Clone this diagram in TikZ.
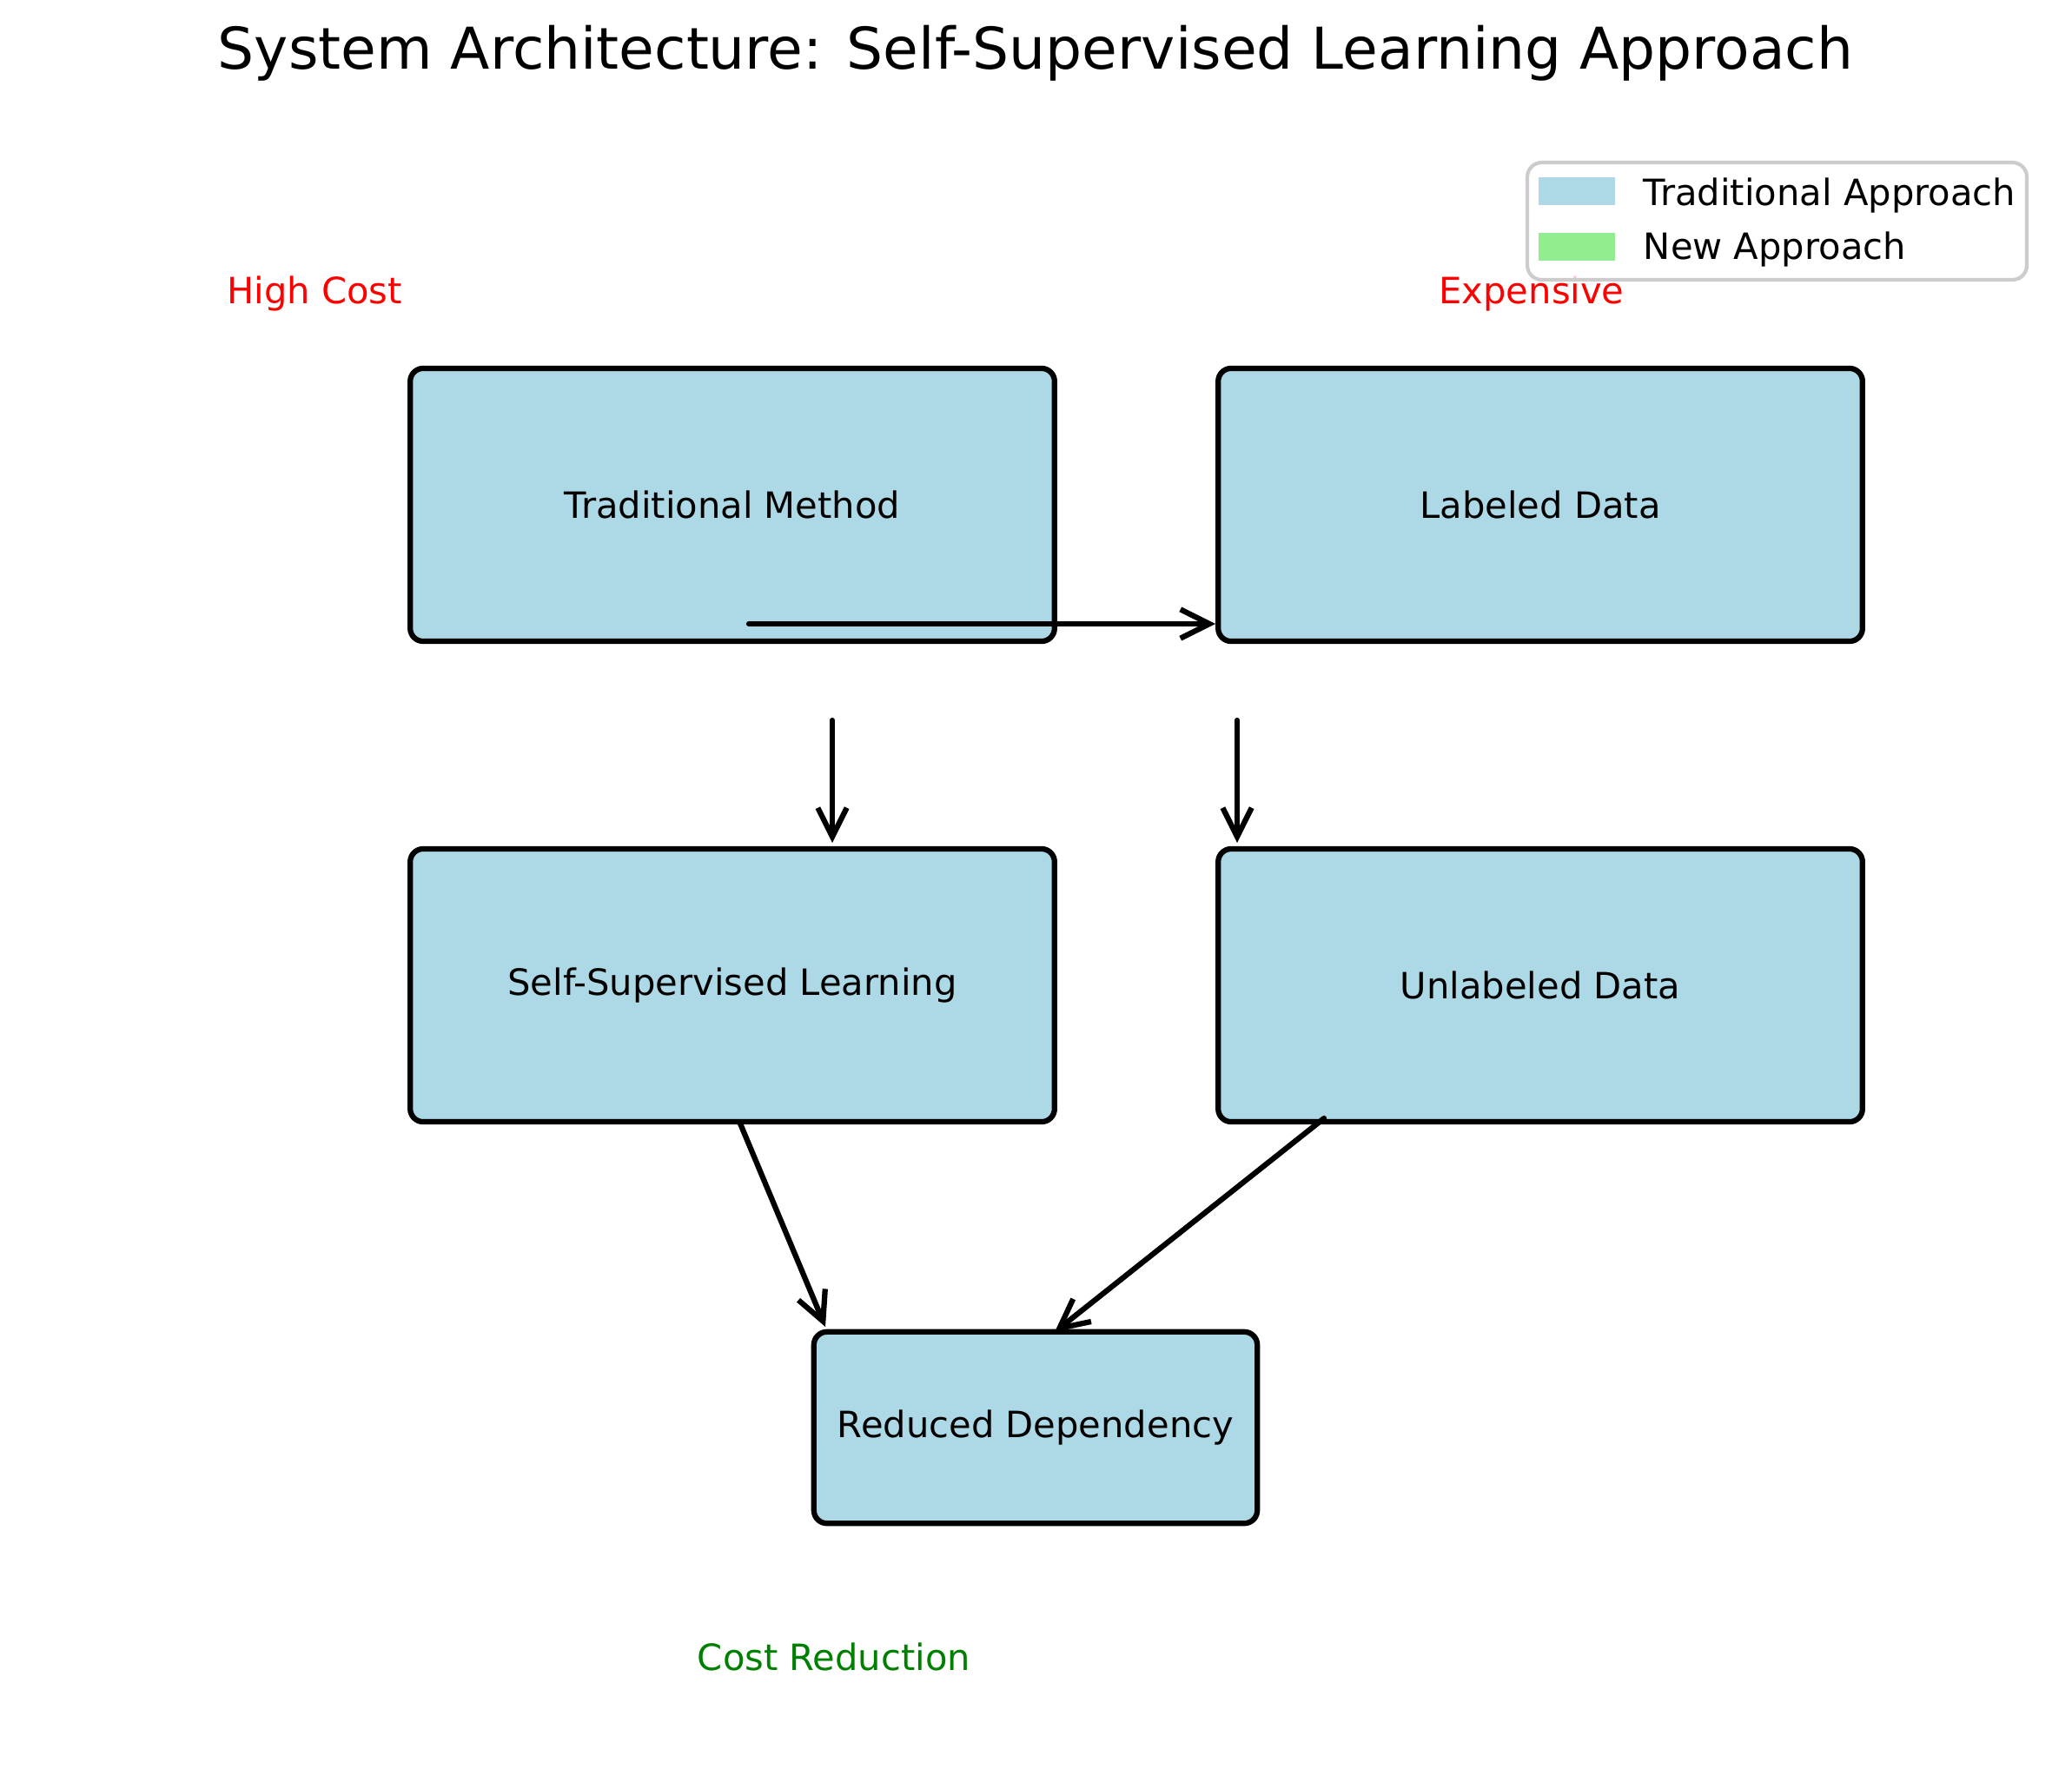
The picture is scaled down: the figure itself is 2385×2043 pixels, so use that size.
\documentclass[tikz,border=0pt]{standalone}
\usepackage{fontspec}
\setmainfont{DejaVu Sans}
\usepackage{xcolor}
\definecolor{boxblue}{HTML}{ADD8E6}
\definecolor{boxgreen}{HTML}{90EE90}
\definecolor{framegray}{HTML}{CCCCCC}
\definecolor{costred}{HTML}{FF0000}
\definecolor{costgreen}{HTML}{008000}
\usetikzlibrary{arrows.meta,positioning,calc}
\tikzset{
  >={Straight Barb[length=8pt,width=8pt,line width=1.5pt]},
  block/.style  ={draw=black,fill=boxblue,line width=1.5pt,rounded corners=3.6pt,
                  font=\fontsize{10}{12}\selectfont,align=center,
                  minimum width=178pt,minimum height=75.4pt},
  smallblock/.style={block,minimum width=122.5pt,minimum height=52.9pt},
  flow/.style   ={->,draw=black,line width=1.5pt,line cap=round},
  lbl/.style    ={font=\fontsize{10}{12}\selectfont,inner sep=0pt},
  patch/.style  ={inner sep=0pt,minimum width=20.9pt,minimum height=7.9pt},
}

\begin{document}
\begin{tikzpicture}[x=0.24pt,y=-0.24pt]
\useasboundingbox (0,0) rectangle (2385,2043);
% title
\node[font=\fontsize{15.9}{19}\selectfont] (title) at (1192,61)
 {System Architecture: Self-Supervised Learning Approach};
% blocks
\node[block] (trad) at (843,581) {Traditional Method};
\node[block] (lab) at (1773,581) {Labeled Data};
\node[block] (ssl) at (843,1134) {Self-Supervised Learning};
\node[block] (unl) at (1773,1134) {Unlabeled Data};
\node[smallblock] (red) at (1192,1643) {Reduced Dependency};
% cost notes
\node[lbl,text=costred] (hicost) at (362,338) {High Cost};
\node[lbl,text=costred] (expens) at (1763,338) {Expensive};
\node[lbl,text=costgreen] (costred) at (960,1907) {Cost Reduction};
% arrow ends
\coordinate (tradout) at (862,718);
\coordinate (tradbelow) at (958,829);
\coordinate (sslin) at (958,970);
\coordinate (labbelow) at (1424,829);
\coordinate (unlin) at (1424,970);
\coordinate (sslout) at (852,1293);
\coordinate (redinl) at (950,1527);
\coordinate (unlout) at (1524,1287);
\coordinate (redinr) at (1214,1533);
\draw[flow] (tradout) -- (lab.west |- tradout);
\draw[flow] (tradbelow) -- (sslin);
\draw[flow] (labbelow) -- (unlin);
\draw[flow] (sslout) -- (redinl);
\draw[flow] (unlout) -- (redinr);
% legend
\node[draw=framegray,line width=1pt,fill=white,fill opacity=0.8,rounded corners=4pt,
      minimum width=138pt,minimum height=32.4pt,inner sep=0pt] (legend) at (2045.5,254.5) {};
\node[patch,fill=boxblue] (legtrad) at (1815,220) {};
\node[patch,fill=boxgreen] (legnew) at (1815,284) {};
\node[lbl,anchor=west] (legtradtxt) at (1891,225) {Traditional Approach};
\node[lbl,anchor=west] (legnewtxt) at (1891,287) {New Approach};
\end{tikzpicture}
\end{document}
